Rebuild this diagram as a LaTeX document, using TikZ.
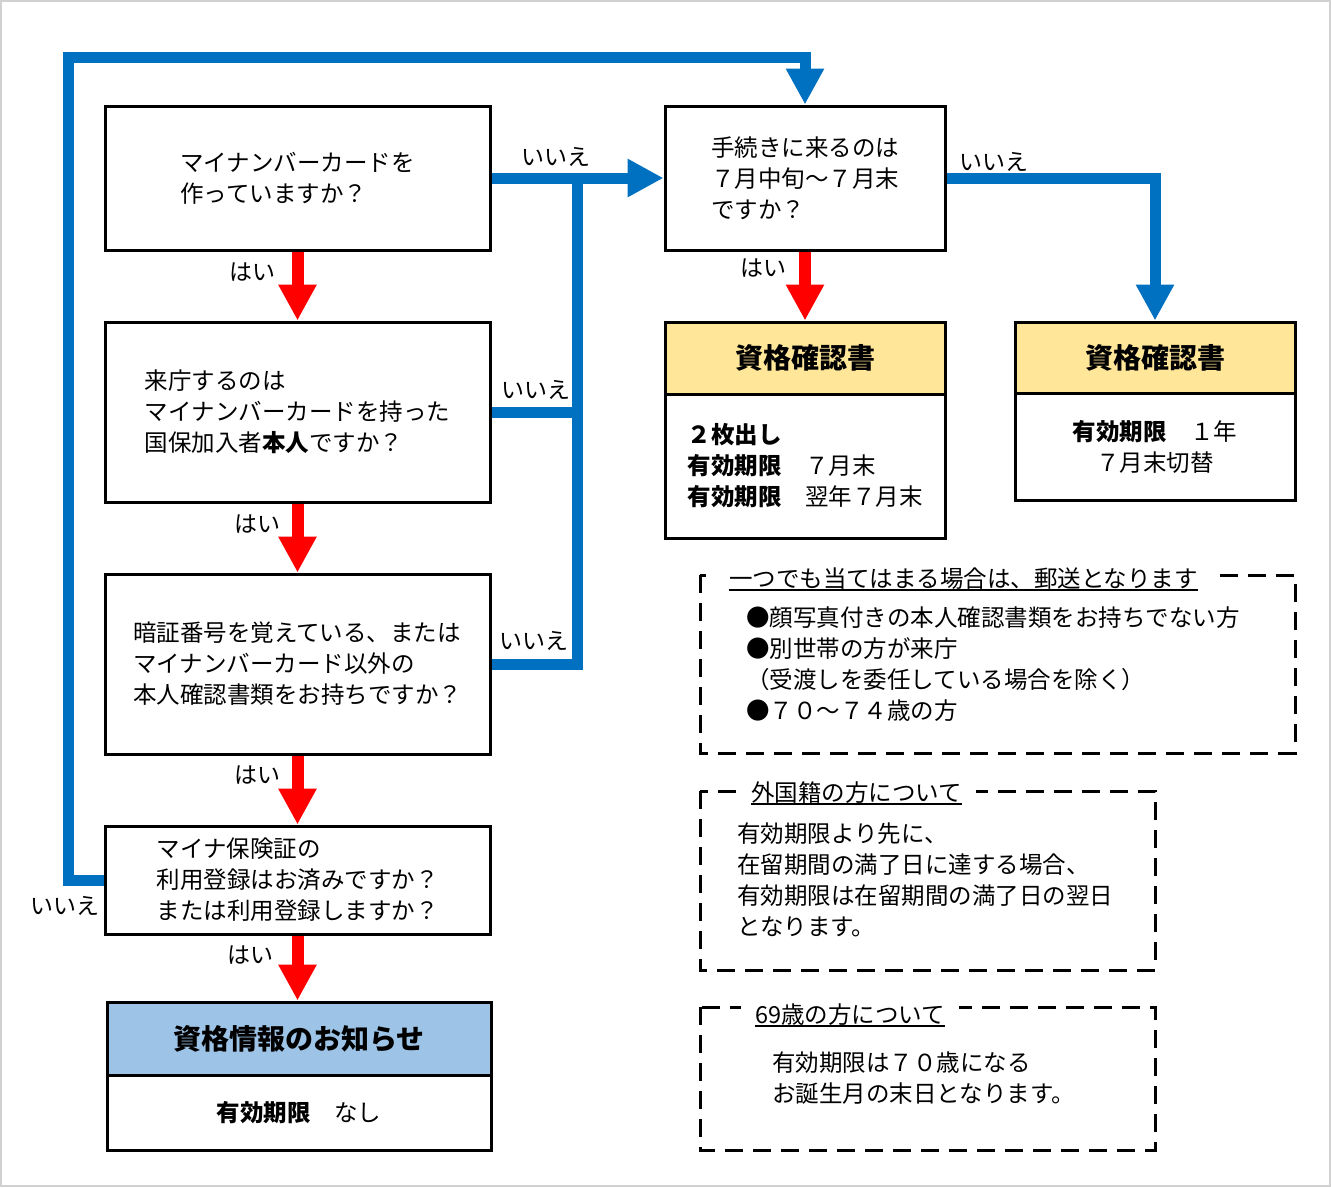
\documentclass[tikz,border=0pt]{standalone}
\usepackage{fontspec}
\setmainfont{Noto Sans CJK JP}
\usetikzlibrary{arrows.meta}
\definecolor{flowblue}{HTML}{0070C0}
\definecolor{flowred}{HTML}{FF0000}
\definecolor{hdryellow}{HTML}{FFE699}
\definecolor{hdrblue}{HTML}{9DC3E6}
\begin{document}
\begin{tikzpicture}[x=1pt,y=-1pt,
  every node/.style={inner sep=0pt, font=\fontsize{23.5}{31}\selectfont},
  qbox/.style={draw=black, line width=3pt, align=left},
  hdr/.style={draw=black, line width=3pt, font=\fontsize{28}{34}\selectfont\bfseries},
  body/.style={draw=black, line width=3pt},
  yesarrow/.style={flowred, line width=12pt, -{Triangle[length=36pt,width=36pt]}},
  noarrow/.style={flowblue, line width=11pt, line join=miter, -{Triangle[length=36pt,width=36pt]}},
  noline/.style={flowblue, line width=11pt, line join=miter},
  lbl/.style={font=\fontsize{23}{28}\selectfont},
  dashbox/.style={line width=3pt, dash pattern=on 18pt off 10pt},
  ttl/.style={fill=white, inner xsep=14pt, inner ysep=0pt, anchor=south},
  ntext/.style={anchor=west, align=left}
]
\useasboundingbox (0,0) rectangle (1331,1187);
\draw[black!18, line width=2pt] (1,1) rectangle (1330,1186);

% question boxes
\node[qbox, minimum width=385pt, minimum height=144pt] (q1) at (297.5,178)
  {マイナンバーカードを\\作っていますか？};
\node[qbox, minimum width=280pt, minimum height=144pt] (q2) at (805,178)
  {手続きに来るのは\\７月中旬～７月末\\ですか？};
\node[qbox, minimum width=385pt, minimum height=180pt] (q3) at (297.5,412)
  {来庁するのは\\マイナンバーカードを持った\\国保加入者{\bfseries 本人}ですか？};
\node[qbox, minimum width=385pt, minimum height=180pt] (q4) at (297.5,664)
  {暗証番号を覚えている、または\\マイナンバーカード以外の\\本人確認書類をお持ちですか？};
\node[qbox, minimum width=385pt, minimum height=108pt] (q5) at (297.5,880)
  {マイナ保険証の\\利用登録はお済みですか？\\または利用登録しますか？};

% result boxes
\node[hdr, fill=hdrblue, minimum width=384pt, minimum height=73pt] (r1h) at (299,1038.5) {資格情報のお知らせ};
\node[body, minimum width=384pt, minimum height=75pt] (r1b) at (299,1112.5) {{\bfseries 有効期限}　なし};

\node[hdr, fill=hdryellow, minimum width=280pt, minimum height=72pt] (r2h) at (805,358) {資格確認書};
\node[body, align=left, minimum width=280pt, minimum height=144pt] (r2b) at (805,466)
  {{\bfseries ２枚出し}\\{\bfseries 有効期限}　７月末\\{\bfseries 有効期限}　翌年７月末};

\node[hdr, fill=hdryellow, minimum width=280pt, minimum height=71pt] (r3h) at (1155,357.5) {資格確認書};
\node[body, align=center, minimum width=280pt, minimum height=107pt] (r3b) at (1155,446.5)
  {{\bfseries 有効期限}　１年\\７月末切替};

% connector helper coordinates
\coordinate (vx) at (577,178);
\coordinate (rx) at (1155,178);
\coordinate (lb) at (68,880);
\coordinate (lt) at (68,57);
\coordinate (tt) at (805,57);

% yes arrows
\draw[yesarrow] (q1.south) -- (q3.north);
\draw[yesarrow] (q3.south) -- (q4.north);
\draw[yesarrow] (q4.south) -- (q5.north);
\draw[yesarrow] (q5.south) -- (q5.south |- r1h.north);
\draw[yesarrow] (q2.south) -- (r2h.north);

% no arrows
\draw[noarrow] (q1.east) -- (q2.west);
\draw[noline] (q3.east) -- (vx |- q3.east);
\draw[noline] (q4.east) -- (vx |- q4.east) -- (vx);
\draw[noarrow] (q2.east) -- (rx) -- (r3h.north);
\draw[noarrow] (q5.west) -- (lb) -- (lt) -- (tt) -- (q2.north);

% labels
\node[lbl] (y1) at (252,272) {はい};
\node[lbl] (y2) at (257,524) {はい};
\node[lbl] (y3) at (257,775) {はい};
\node[lbl] (y4) at (250,955) {はい};
\node[lbl] (y5) at (763,268) {はい};
\node[lbl] (n1) at (556,157) {いいえ};
\node[lbl] (n2) at (536,390) {いいえ};
\node[lbl] (n3) at (534,641) {いいえ};
\node[lbl] (n4) at (994,162) {いいえ};
\node[lbl] (n5) at (65,906) {いいえ};

% note boxes
\draw[dashbox] (700,575) rectangle (1295,753);
\node[ttl] (t1) at (963.5,590) {一つでも当てはまる場合は、郵送となります};
\draw[line width=1.5pt] ([xshift=14pt]t1.south west) -- ([xshift=-14pt]t1.south east);
\node[ntext] (m1) at (746,664.5)
  {●顔写真付きの本人確認書類をお持ちでない方\\●別世帯の方が来庁\\（受渡しを委任している場合を除く）\\●７０～７４歳の方};

\draw[dashbox] (700,791) rectangle (1155,970);
\node[ttl] (t2) at (856.5,804) {外国籍の方について};
\draw[line width=1.5pt] ([xshift=14pt]t2.south west) -- ([xshift=-14pt]t2.south east);
\node[ntext] (m2) at (737,880)
  {有効期限より先に、\\在留期間の満了日に達する場合、\\有効期限は在留期間の満了日の翌日\\となります。};

\draw[dashbox] (700,1007) rectangle (1155,1150);
\node[ttl] (t3) at (850,1026) {69歳の方について};
\draw[line width=1.5pt] ([xshift=14pt]t3.south west) -- ([xshift=-14pt]t3.south east);
\node[ntext] (m3) at (772,1078.5)
  {有効期限は７０歳になる\\お誕生月の末日となります。};
\end{tikzpicture}
\end{document}
